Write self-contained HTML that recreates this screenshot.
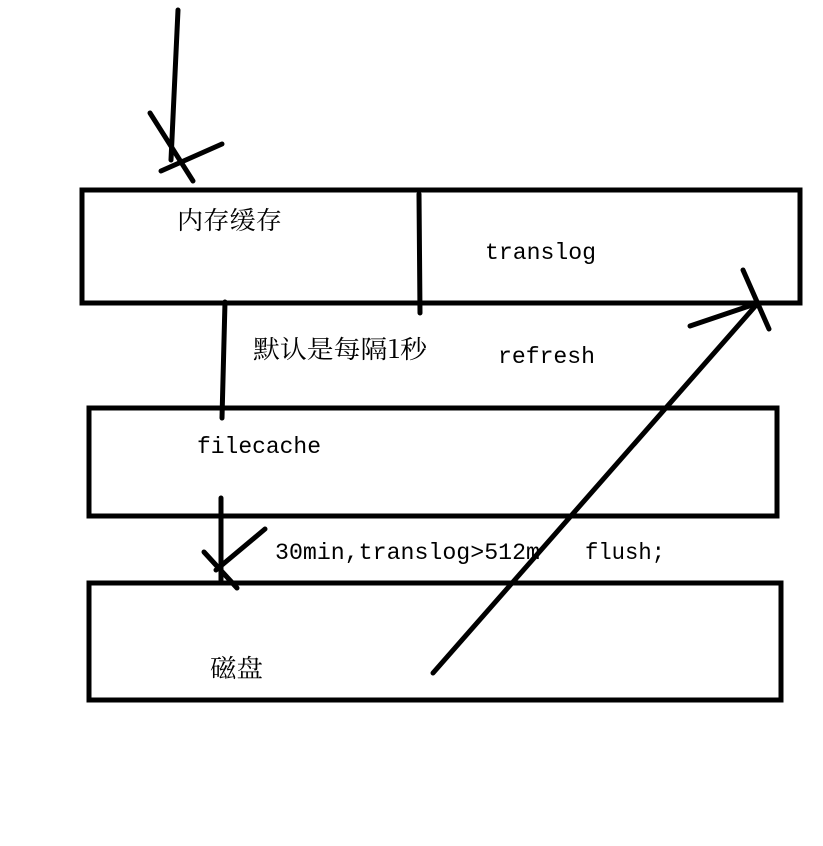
<!DOCTYPE html>
<html><head><meta charset="utf-8"><style>
body{margin:0;background:#fff;width:823px;height:841px;overflow:hidden}
svg text{font-family:"Liberation Mono","Noto Serif CJK SC",monospace;font-size:23px;fill:#000}
svg text.c{font-family:"Noto Serif CJK SC","Liberation Serif",serif;font-size:25px}
</style></head><body>
<svg width="823" height="841" xmlns="http://www.w3.org/2000/svg">
<g fill="none" stroke="#000" stroke-width="5" stroke-linecap="round">
<rect x="82" y="190" width="718" height="113" stroke-linecap="butt"/>
<rect x="89" y="408" width="688" height="108" stroke-linecap="butt"/>
<rect x="89" y="583" width="692" height="117" stroke-linecap="butt"/>
<line x1="419" y1="194" x2="420" y2="313"/>
<line x1="225" y1="302" x2="222" y2="418"/>
<line x1="178" y1="10" x2="171" y2="160"/>
<line x1="150" y1="113" x2="193" y2="181"/>
<line x1="161" y1="171" x2="222" y2="144"/>
<line x1="221" y1="498" x2="221" y2="580"/>
<line x1="204" y1="552" x2="237" y2="588"/>
<line x1="216" y1="570" x2="265" y2="529"/>
<line x1="433" y1="673" x2="758" y2="303"/>
<line x1="690" y1="326" x2="758" y2="303"/>
<line x1="743" y1="270" x2="769" y2="329"/>
</g>
<text class="c" x="177" y="229" textLength="105" lengthAdjust="spacingAndGlyphs">内存缓存</text>
<text x="485" y="259" textLength="111" lengthAdjust="spacingAndGlyphs">translog</text>
<text class="c" x="253" y="358" textLength="174" lengthAdjust="spacingAndGlyphs">默认是每隔1秒</text>
<text x="498" y="363" textLength="97" lengthAdjust="spacingAndGlyphs">refresh</text>
<text x="197" y="453" textLength="124" lengthAdjust="spacingAndGlyphs">filecache</text>
<text x="275" y="559" textLength="265" lengthAdjust="spacingAndGlyphs">30min,translog&gt;512m</text>
<text x="585" y="559" textLength="80" lengthAdjust="spacingAndGlyphs">flush;</text>
<text class="c" x="210" y="677" textLength="53" lengthAdjust="spacingAndGlyphs">磁盘</text>
</svg>
</body></html>
